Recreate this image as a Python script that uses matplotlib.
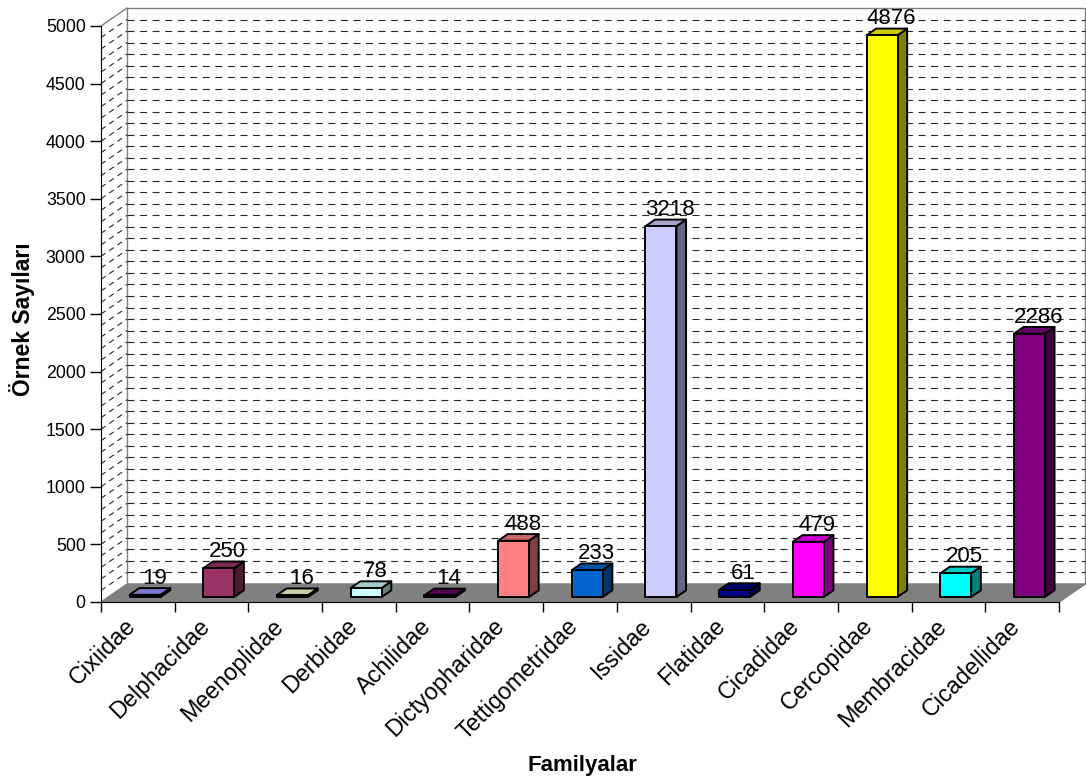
import numpy as np
import matplotlib
matplotlib.use('Agg')
import matplotlib.pyplot as plt
from matplotlib.patches import Polygon
from matplotlib.colors import to_rgb

plt.rcParams['font.family'] = ['Liberation Sans', 'DejaVu Sans']

families = ['Cixiidae', 'Delphacidae', 'Meenoplidae', 'Derbidae', 'Achilidae',
            'Dictyopharidae', 'Tettigometridae', 'Issidae', 'Flatidae', 'Cicadidae',
            'Cercopidae', 'Membracidae', 'Cicadellidae']
counts = [19, 250, 16, 78, 14, 488, 233, 3218, 61, 479, 4876, 205, 2286]
colors = ['#9999FF', '#993366', '#FFFFCC', '#CCFFFF', '#660066', '#FF8080', '#0066CC',
          '#CCCCFF', '#000080', '#FF00FF', '#FFFF00', '#00FFFF', '#800080']

YMAX = 5000
n = len(families)

fig = plt.figure(figsize=(10.86, 7.8), dpi=100)
# front frame of the 3d box in figure pixels
L, R, B, T = 101, 1059, 602, 26
W, H = 1086, 780
ax = fig.add_axes([L / W, (H - B) / H, (R - L) / W, (B - T) / H])
ax.set_xlim(0, n)
ax.set_ylim(0, YMAX)

px_x = (R - L) / n          # pixels per category
px_y = (B - T) / YMAX       # pixels per unit
DX = 26 / px_x              # depth offset in data units
DY = 18 / px_y

gray = '#808080'
grid_c = '#262626'

# back wall
ax.add_patch(Polygon([(DX, DY), (n + DX, DY), (n + DX, YMAX + DY), (DX, YMAX + DY)],
                     closed=True, facecolor='white', edgecolor=gray, lw=1.0,
                     clip_on=False, zorder=1))
# dashed gridlines on back wall and side wall
for v in range(100, YMAX, 100):
    ax.plot([DX, n + DX], [v + DY, v + DY], color=grid_c, lw=0.8,
            dashes=(6.3, 5), clip_on=False, zorder=2)
    ax.plot([0, DX], [v, v + DY], color=grid_c, lw=0.8,
            dashes=(5, 4), clip_on=False, zorder=2)
# side wall top edge
ax.plot([0, DX], [YMAX, YMAX + DY], color=gray, lw=1.0, clip_on=False, zorder=2)
# floor
ax.add_patch(Polygon([(0, 0), (n, 0), (n + DX, DY), (DX, DY)], closed=True,
                     facecolor=gray, edgecolor=gray, lw=1.0, clip_on=False, zorder=3))
ax.plot([n, n + DX], [0, DY], color=gray, lw=1.0, clip_on=False, zorder=3)

# bars
f0, f1 = 0.28, 0.65
bw = 0.42
for i, (v, c) in enumerate(zip(counts, colors)):
    rgb = np.array(to_rgb(c))
    x0 = i + 0.5 - bw / 2 + f0 * DX
    y0 = f0 * DY
    ddx = (f1 - f0) * DX
    ddy = (f1 - f0) * DY
    kw = dict(closed=True, edgecolor='black', lw=1.4, clip_on=False, zorder=5,
              joinstyle='round')
    ax.add_patch(Polygon([(x0 + bw, y0), (x0 + bw + ddx, y0 + ddy),
                          (x0 + bw + ddx, y0 + ddy + v), (x0 + bw, y0 + v)],
                         facecolor=rgb * 0.5, **kw))
    ax.add_patch(Polygon([(x0, y0 + v), (x0 + bw, y0 + v),
                          (x0 + bw + ddx, y0 + v + ddy), (x0 + ddx, y0 + v + ddy)],
                         facecolor=rgb * 0.8, **kw))
    ax.add_patch(Polygon([(x0, y0), (x0 + bw, y0), (x0 + bw, y0 + v), (x0, y0 + v)],
                         facecolor=rgb, **kw))
    ax.annotate(str(v), (i + 0.5 + 0.63 * DX, v + y0), xytext=(0, 8),
                textcoords='offset points', ha='center', va='baseline',
                fontsize=16, zorder=6, annotation_clip=False)

for s in ['top', 'right']:
    ax.spines[s].set_visible(False)
ax.spines['left'].set_color('black')
ax.spines['bottom'].set_color('black')
ax.spines['left'].set_zorder(4)
ax.spines['bottom'].set_zorder(4)

ax.set_yticks(range(0, YMAX + 1, 500))
ax.tick_params(axis='y', length=8, width=1, pad=3, labelsize=12.8)
ax.set_xticks(range(n + 1))
ax.set_xticklabels([])
ax.tick_params(axis='x', length=7.5, width=1)
for i, name in enumerate(families):
    ax.annotate(name, (i + 0.5, 0), xytext=(2, -9), textcoords='offset points',
                rotation=45, ha='right', va='top', fontsize=16.8,
                annotation_clip=False)

fig.text(582 / W, 1 - 765 / H, 'Familyalar', ha='center', va='center',
         fontsize=16, fontweight='bold')
fig.text(22 / W, 1 - 319 / H, 'Örnek Sayıları', ha='center', va='center',
         rotation=90, fontsize=16.5, fontweight='bold')

fig.savefig('out.png', dpi=100)
